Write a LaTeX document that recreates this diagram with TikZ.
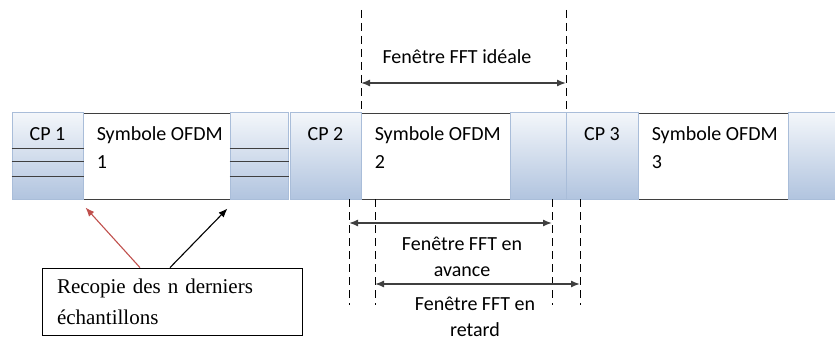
\documentclass[tikz,border=0pt]{standalone}
\usepackage{fontspec}
\setmainfont{Carlito}
\newfontfamily\boxfont{Liberation Serif}
\usetikzlibrary{arrows.meta,positioning}
\definecolor{symline}{HTML}{3F3F3F}
\definecolor{cpline}{HTML}{A9BDD9}
\definecolor{cptop}{HTML}{F3F6FA}
\definecolor{cpbot}{HTML}{B1C4DF}
\definecolor{recred}{HTML}{C0504D}
\tikzset{
  guide/.style={line width=.8pt,dash pattern=on 8pt off 5pt},
  fftarrow/.style={<->,line width=1.4pt,draw=symline},
  txt/.style={font=\fontsize{20}{26}\selectfont,inner sep=0pt}
}
\begin{document}
\begin{tikzpicture}[x=1pt,y=-1pt,>={Latex[length=9pt,width=7pt]}]
  \useasboundingbox (0,0) rectangle (835,342);
  \clip (0,0) rectangle (835,342);

  % symboles OFDM
  \begin{scope}[every node/.style={draw=symline,line width=.8pt,fill=white,minimum height=86pt,inner sep=0pt}]
    \node[minimum width=147pt] (s1) at (156.5,156) {};
    \node[minimum width=149pt] (s2) at (435.5,156) {};
    \node[minimum width=150pt] (s3) at (713,156) {};
  \end{scope}

  % prefixes cycliques et fins de symbole
  \begin{scope}[every node/.style={draw=cpline,line width=1pt,top color=cptop,bottom color=cpbot,minimum height=86pt,inner sep=0pt}]
    \node[minimum width=71pt] (cp1) at (47.5,156) {};
    \node[minimum width=58pt] (g1)  at (259,156)  {};
    \node[minimum width=71pt] (cp2) at (325.5,156) {};
    \node[minimum width=56pt] (g2)  at (538,156)  {};
    \node[minimum width=72pt] (cp3) at (602,156)  {};
    \node[minimum width=56pt] (g3)  at (816,156)  {};
  \end{scope}

  \foreach \b in {cp1,g1}
    \foreach \yy in {148,161,176}
      \draw[symline,line width=.8pt] (\b.west |- 0,\yy) -- (\b.east |- 0,\yy);

  \begin{scope}[every node/.style={font=\fontsize{20}{28}\selectfont,inner sep=0pt}]
    \foreach \n in {1,2,3} {
      \node (cpt\n) at ([yshift=-22pt]cp\n.north) {CP \n};
      \node[anchor=north west,align=left] (st\n) at ([xshift=14pt,yshift=-14pt]s\n.north west) {Symbole OFDM\\\n};
    }
  \end{scope}

  % fenetre ideale
  \coordinate (i1) at (361,10);
  \coordinate (i2) at (566,10);
  \draw[guide] (i1) -- (i1 |- s2.north);
  \draw[guide] (i2) -- (i2 |- s2.north);
  \draw[fftarrow] (i1 |- 0,83) -- (i2 |- 0,83);
  \node[txt] (ideal) at (457,57) {Fenêtre FFT idéale};

  % fenetres en avance et en retard
  \coordinate (a1) at (349,199);
  \coordinate (r1) at (375,199);
  \coordinate (a2) at (552,199);
  \coordinate (r2) at (580,199);
  \foreach \c in {a1,r1,a2,r2}
    \draw[guide] (\c) -- (\c |- 0,305);
  \draw[fftarrow] (a1 |- 0,223) -- (a2 |- 0,223);
  \draw[fftarrow] (r1 |- 0,284) -- (r2 |- 0,284);
  \node[txt,align=center] (avance) at (462,257) {Fenêtre FFT en\\avance};
  \node[txt,align=center] (retard) at (475,317) {Fenêtre FFT en\\retard};

  % recopie
  \node[draw,line width=.8pt,text width=230pt,inner xsep=15pt,inner ysep=0pt,minimum height=67pt,align=left,
        font=\boxfont\fontsize{21}{31}\selectfont] (rec) at (172,301.5) {Recopie des n derniers\\échantillons};
  \draw[->,recred,line width=1.1pt] ([xshift=-32pt]rec.north) -- ([shift={(2pt,-8pt)}]cp1.south east);
  \draw[->,line width=1.1pt] ([xshift=-2pt]rec.north) -- ([shift={(-2pt,-9pt)}]g1.south west);

\end{tikzpicture}
\end{document}
